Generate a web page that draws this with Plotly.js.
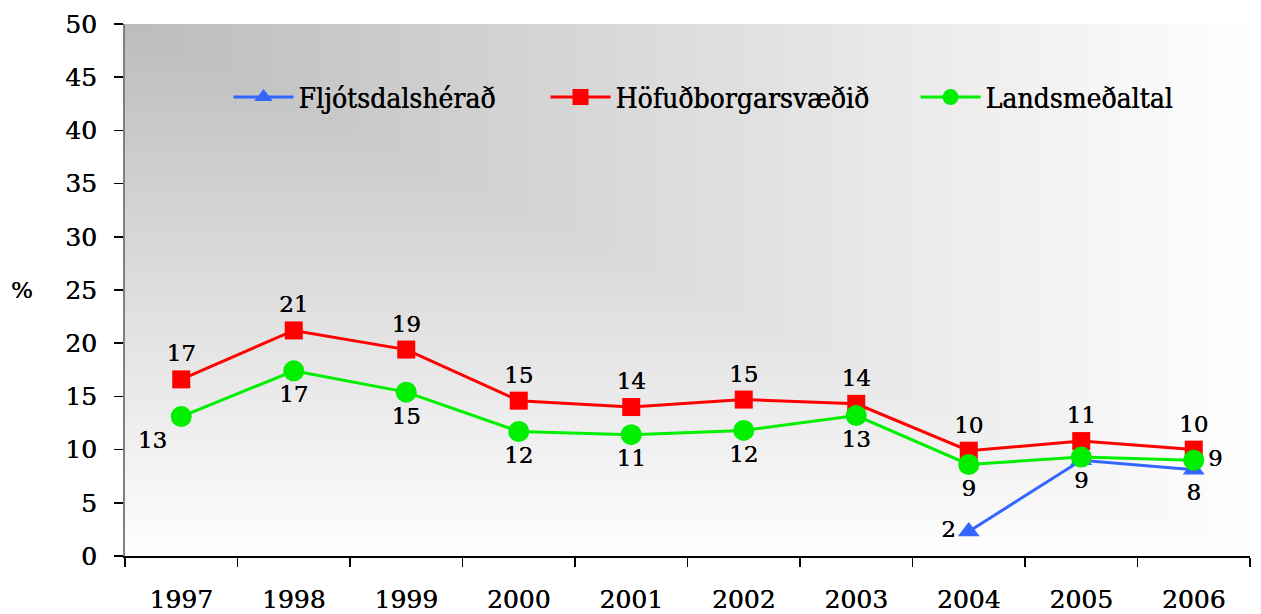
<!DOCTYPE html>
<html>
<head>
<meta charset="utf-8">
<script src="https://cdn.plot.ly/plotly-3.0.1.min.js"></script>
<style>html,body{margin:0;padding:0;background:#fff;}#chart{width:1261px;height:614px;}</style>
</head>
<body>
<div id="chart"></div>
<script>
// Data
const years = ['1997','1998','1999','2000','2001','2002','2003','2004','2005','2006'];
const yearsBlue = ['2004','2005','2006'];
const fljotsdalsherad = [2.3, 9.0, 8.1];
const fljotsdalsheradLabelShown = [true, false, true]; // 2005 label coincides with Landsmeðaltal's
const hofudborgarsvaedid = [16.6, 21.2, 19.4, 14.6, 14.0, 14.7, 14.3, 9.9, 10.8, 10.0];
const landsmedaltal = [13.1, 17.4, 15.4, 11.7, 11.4, 11.8, 13.2, 8.6, 9.3, 9.0];
const seriesNames = ['Fljótsdalshérað', 'Höfuðborgarsvæðið', 'Landsmeðaltal'];
const yTicks = [0,5,10,15,20,25,30,35,40,45,50];

const serif = 'DejaVu Serif, Liberation Serif, serif';
const legendSerif = 'DejaVu Serif Condensed, DejaVu Serif, serif';
const shadow = '0.35px 0 0 #000';
const lbl = v => String(Math.round(v));

const greenPos = years.map((y,i)=> i===0 ? 'bottom left' : (i===years.length-1 ? 'middle right' : 'bottom center'));
const bluePos = yearsBlue.map((y,i)=> i===0 ? 'middle left' : 'bottom center');
const labelFont = {family: serif, size: 23, color: '#000', shadow: shadow};

const traces = [
  {
    x: yearsBlue, y: fljotsdalsherad, name: seriesNames[0], type: 'scatter', mode: 'lines+markers+text',
    legend: 'legend',
    line: {color: '#3366ff', width: 3},
    marker: {symbol: 'triangle-up', size: 19, color: '#3366ff'},
    text: fljotsdalsherad.map((v,i)=> fljotsdalsheradLabelShown[i] ? lbl(v) : ''), textposition: bluePos,
    textfont: labelFont, cliponaxis: false
  },
  {
    x: years, y: hofudborgarsvaedid, name: seriesNames[1], type: 'scatter', mode: 'lines+markers+text',
    legend: 'legend2',
    line: {color: '#ff0000', width: 3},
    marker: {symbol: 'square', size: 18, color: '#ff0000'},
    text: hofudborgarsvaedid.map(lbl), textposition: 'top center',
    textfont: labelFont, cliponaxis: false
  },
  {
    x: years, y: landsmedaltal, name: seriesNames[2], type: 'scatter', mode: 'lines+markers+text',
    legend: 'legend3',
    line: {color: '#00ee00', width: 3},
    marker: {symbol: 'circle', size: 21, color: '#00ee00'},
    text: landsmedaltal.map(lbl), textposition: greenPos,
    textfont: labelFont, cliponaxis: false
  }
];

// Rectangular "from corner" gradient background (grey top-left to white)
function cornerGradient(w, h, c0, c1) {
  const cv = document.createElement('canvas');
  cv.width = w; cv.height = h;
  const ctx = cv.getContext('2d');
  const img = ctx.createImageData(w, h);
  for (let y = 0; y < h; y++) {
    for (let x = 0; x < w; x++) {
      const t = Math.max(x / (w - 1), y / (h - 1));
      const v = Math.round(c0 + (c1 - c0) * t);
      const k = (y * w + x) * 4;
      img.data[k] = v; img.data[k+1] = v; img.data[k+2] = v; img.data[k+3] = 255;
    }
  }
  ctx.putImageData(img, 0, 0);
  return cv.toDataURL('image/png');
}

const legendBase = {
  orientation: 'h', xanchor: 'left', y: 0.862, yanchor: 'middle',
  bgcolor: 'rgba(0,0,0,0)', font: {family: legendSerif, size: 28, color: '#000', shadow: shadow},
  itemwidth: 60
};

const layout = {
  width: 1261, height: 614,
  margin: {l: 125, r: 11, t: 24, b: 58},
  paper_bgcolor: '#ffffff',
  plot_bgcolor: 'rgba(0,0,0,0)',
  font: {family: serif, size: 24, color: '#000'},
  showlegend: true,
  legend: Object.assign({}, legendBase, {x: 0.092}),
  legend2: Object.assign({}, legendBase, {x: 0.3738}),
  legend3: Object.assign({}, legendBase, {x: 0.7027}),
  xaxis: {
    type: 'category', categoryarray: years, categoryorder: 'array',
    range: [-0.5, 9.5], showline: true, linecolor: '#000', linewidth: 1.5,
    ticks: 'outside', tickson: 'boundaries', ticklen: 9, tickcolor: '#000', tickwidth: 1.5,
    showgrid: false, zeroline: false, ticklabelstandoff: 20,
    tickfont: {family: serif, size: 25, color: '#000', shadow: shadow}
  },
  yaxis: {
    range: [0, 50], tickvals: yTicks, ticktext: yTicks.map(String),
    showline: true, linecolor: '#808080', linewidth: 2,
    ticks: 'outside', ticklen: 9, tickcolor: '#000', tickwidth: 1.5,
    showgrid: false, zeroline: false, ticklabelstandoff: 12,
    tickfont: {family: serif, size: 25, color: '#000', shadow: shadow}
  },
  annotations: [
    {text: '%', xref: 'paper', yref: 'y', x: -0.0916, y: 25, xanchor: 'center', yanchor: 'middle',
     showarrow: false, font: {family: serif, size: 23, color: '#000', shadow: shadow}}
  ],
  images: [
    {source: cornerGradient(1125, 532, 188, 254),
     xref: 'paper', yref: 'paper', x: 0, y: 1, sizex: 1, sizey: 1,
     sizing: 'stretch', layer: 'below', xanchor: 'left', yanchor: 'top'}
  ]
};

Plotly.newPlot('chart', traces, layout, {displayModeBar: false, staticPlot: true});
</script>
</body>
</html>
